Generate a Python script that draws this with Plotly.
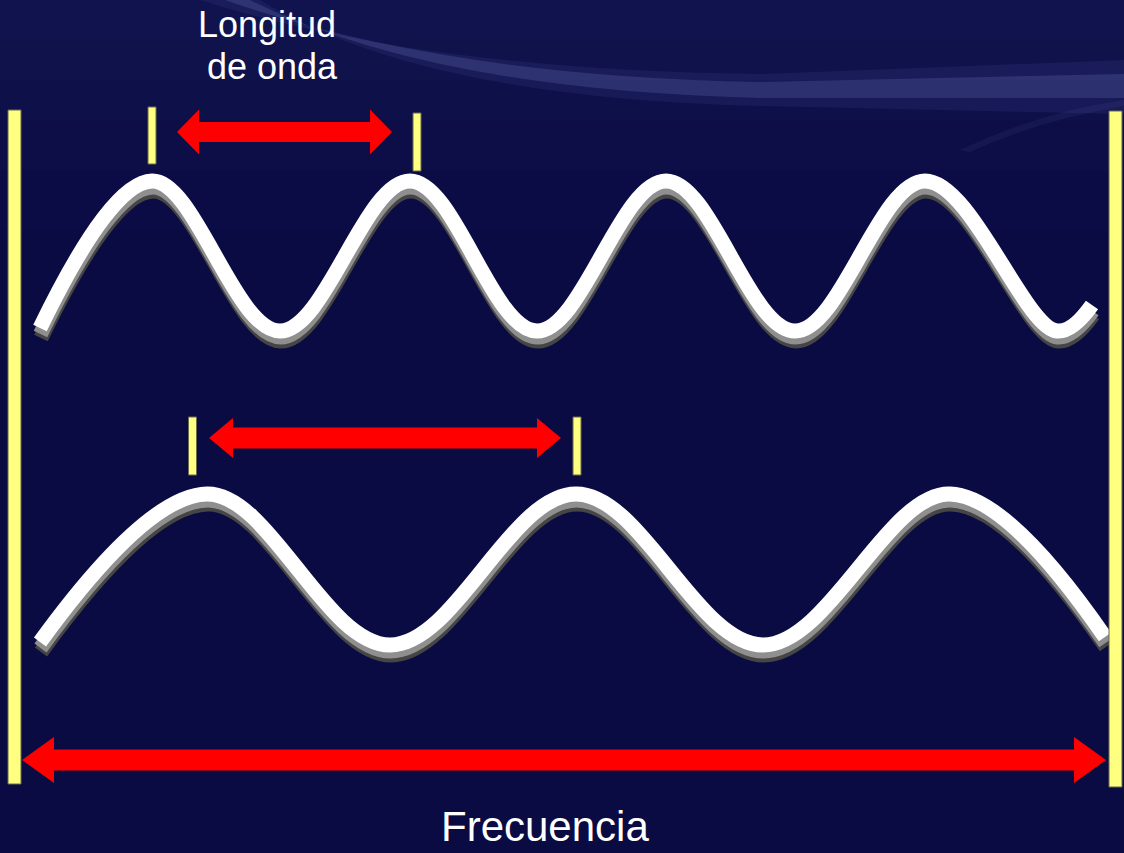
import plotly.graph_objects as go

W, H = 1124, 853

# ---- data (pixel units, y downwards) ----
# Upper wave (short wavelength): start, crests/troughs, end of the centre line
top_wave_x = [40, 152, 280, 410, 537, 666, 795, 925, 1057, 1092]
top_wave_y = [328, 181, 331, 181, 331, 181, 331, 181, 331, 305]

# Lower wave (long wavelength)
bot_wave_x = [40, 207, 390, 576, 763, 950, 1105]
bot_wave_y = [642, 494, 645, 494, 645, 494, 637]

# Yellow frame bars (left / right)
frame_x = [14.5, 1115.5]
frame_top = [110, 111]
frame_bottom = [784, 787]

# Yellow wavelength marks
mark_x = [152, 417, 192.5, 577]
mark_top = [107, 113, 417, 417]
mark_bottom = [164, 171, 475, 475]

# Red double arrows: left tip, right tip, centre y
arrow_x0 = [177, 209, 22]
arrow_x1 = [392, 561, 1106]
arrow_y = [132, 438, 760]

# Labels
label_text = ["Longitud", "de onda", "Frecuencia"]
label_x = [267, 272, 545]
label_y = [24, 66, 852]
label_anchor = ["middle", "middle", "bottom"]
label_size = [36, 36, 42]

# ---- styles ----
BG = "#0a0b43"
YELLOW = "#ffff80"
RED = "#ff0000"
FONT = "Liberation Sans, Arial, sans-serif"
arrow_head_len = [22, 24, 32]
arrow_head_half = [22.5, 20, 23]
arrow_shaft_half = [10, 10.5, 10.5]

fig = go.Figure()

shapes = []
# subtle background gradient (lighter towards the top)
bands = [(0, 40, 0.10), (40, 80, 0.08), (80, 120, 0.06), (120, 170, 0.04), (170, 230, 0.02)]
for y0, y1, a in bands:
    shapes.append(dict(type="rect", xref="x", yref="y", x0=0, x1=W, y0=y0, y1=y1,
                       fillcolor=f"rgba(90,100,190,{a})", line_width=0, layer="below"))
# swoosh glow
shapes.append(dict(type="path", xref="x", yref="y",
                   path="M 200,0 Q 420,70 760,74 L 1124,60 L 1124,114 L 760,106 Q 420,98 260,0 Z",
                   fillcolor="rgba(110,120,200,0.10)", line_width=0, layer="below"))
shapes.append(dict(type="path", xref="x", yref="y",
                   path="M 225,0 Q 440,76 760,82 L 1124,74 L 1124,98 L 760,98 Q 430,90 250,0 Z",
                   fillcolor="rgba(130,140,210,0.20)", line_width=0, layer="below"))
shapes.append(dict(type="path", xref="x", yref="y",
                   path="M 960,150 Q 1040,112 1124,100 L 1124,106 Q 1040,120 970,152 Z",
                   fillcolor="rgba(130,140,210,0.08)", line_width=0, layer="below"))

# yellow frame bars
for x, t, b in zip(frame_x, frame_top, frame_bottom):
    shapes.append(dict(type="rect", xref="x", yref="y", x0=x - 6.5, x1=x + 6.5, y0=t, y1=b,
                       fillcolor=YELLOW, line=dict(color="#6b6b50", width=1)))
# yellow marks
for x, t, b in zip(mark_x, mark_top, mark_bottom):
    shapes.append(dict(type="rect", xref="x", yref="y", x0=x - 4, x1=x + 4, y0=t, y1=b,
                       fillcolor=YELLOW, line=dict(color="#6b6b50", width=1)))
# red double arrows
for x0, x1, y, hl, hh, sh in zip(arrow_x0, arrow_x1, arrow_y,
                                 arrow_head_len, arrow_head_half, arrow_shaft_half):
    p = (f"M {x0},{y} L {x0+hl},{y-hh} L {x0+hl},{y-sh} L {x1-hl},{y-sh} "
         f"L {x1-hl},{y-hh} L {x1},{y} L {x1-hl},{y+hh} L {x1-hl},{y+sh} "
         f"L {x0+hl},{y+sh} L {x0+hl},{y+hh} Z")
    shapes.append(dict(type="path", xref="x", yref="y", path=p,
                       fillcolor=RED, line_width=0))

# waves: drop shadow, mid tone, white body
for wx, wy in [(top_wave_x, top_wave_y), (bot_wave_x, bot_wave_y)]:
    for dx, dy, col, w in [(1, 10, "#454545", 15), (0.5, 6, "#8f8f8f", 15), (0, 0, "#ffffff", 15)]:
        fig.add_trace(go.Scatter(
            x=[v + dx for v in wx], y=[v + dy for v in wy], mode="lines",
            line=dict(color=col, width=w, shape="spline", smoothing=1.05),
            hoverinfo="skip", showlegend=False))

annotations = []
for t, x, y, a, s in zip(label_text, label_x, label_y, label_anchor, label_size):
    annotations.append(dict(text=t, x=x, y=y, xref="x", yref="y", showarrow=False,
                            xanchor="center", yanchor=a,
                            font=dict(family=FONT, size=s, color="white")))

fig.update_layout(
    width=W, height=H,
    margin=dict(l=0, r=0, t=0, b=0),
    paper_bgcolor=BG, plot_bgcolor=BG,
    shapes=shapes, annotations=annotations,
    xaxis=dict(range=[0, W], visible=False, fixedrange=True),
    yaxis=dict(range=[H, 0], visible=False, fixedrange=True),
    showlegend=False,
)

fig.write_html("out.html", config={"displayModeBar": False},
               post_script="document.body.style.margin='0';document.body.style.padding='0';"
                           "document.body.style.overflow='hidden';")
